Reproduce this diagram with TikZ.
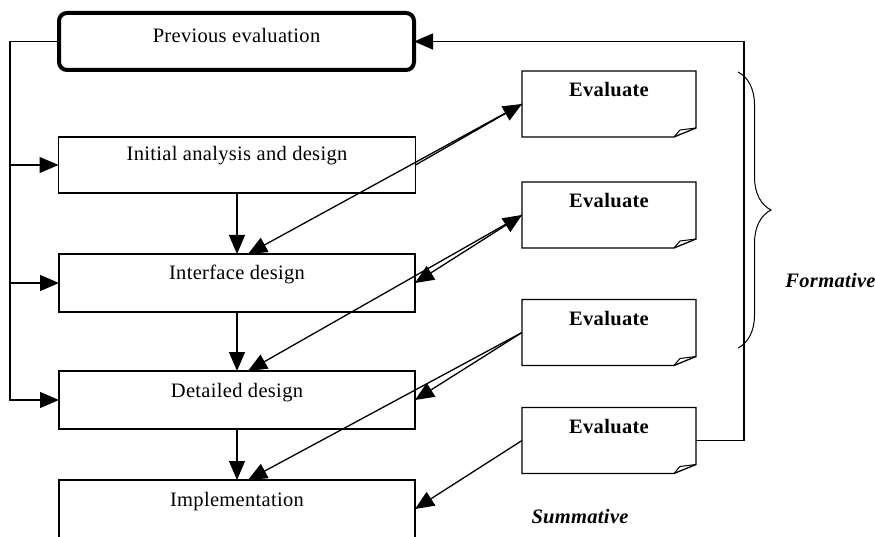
\documentclass[tikz,border=0pt]{standalone}
\usepackage{fontspec}
\setmainfont{Liberation Serif}[LetterSpace=1.5]
\usetikzlibrary{arrows.meta, calc, decorations.pathreplacing}
\newcommand{\diagfont}{\fontsize{20.5}{24}\selectfont}

\begin{document}
\begin{tikzpicture}[x=1pt, y=1pt, line width=1.3pt,
    font=\diagfont,
    >={Triangle[length=19pt, width=16pt]}]
            \tikzstyle{every node}+=[inner sep=0pt, outer sep=0pt]
            \tikzstyle{stagebox}=[draw, rectangle, minimum height=58pt, minimum width=356pt]
            \tikzstyle{evalbox}=[rectangle, minimum height=66pt, minimum width=174pt]
            \useasboundingbox (0, 0) rectangle (875, 536);
            % stages
            \node [stagebox, line width=4pt, rounded corners=8pt, minimum width=355pt, minimum height=57pt] (prev) at (236.5, 494.5) {};
            \node [stagebox, minimum width=357pt, minimum height=56pt] (init) at (237, 371) {};
            \node [stagebox] (iface) at (237, 253) {};
            \node [stagebox] (det) at (237, 136) {};
            \node [stagebox] (impl) at (237, 27) {};
            \node [anchor=base] (prevt) at ([yshift=-30pt]prev.north) {Previous evaluation};
            \node [anchor=base] (initt) at ([yshift=-24pt]init.north) {Initial analysis and design};
            \node [anchor=base] (ifacet) at ([yshift=-25.5pt]iface.north) {Interface design};
            \node [anchor=base] (dett) at ([yshift=-26pt]det.north) {Detailed design};
            \node [anchor=base] (implt) at ([yshift=-26pt]impl.north) {Implementation};
            % evaluation notes
            \foreach \n/\y in {ev1/432, ev2/321, ev3/203.5, ev4/95.5} {
                \node [evalbox] (\n) at (609, \y) {};
                \node [anchor=base, font=\diagfont\bfseries] (\n t) at ([yshift=-26pt]\n.north) {Evaluate};
                \draw [black] (\n.north west) -- (\n.north east) -- ([yshift=9pt]\n.south east)
                    -- ([xshift=-22pt]\n.south east) -- (\n.south west) -- cycle;
                \draw [black, line width=1pt] ([xshift=-22pt]\n.south east) -- ([xshift=-16pt, yshift=7pt]\n.south east)
                    -- ([yshift=9pt]\n.south east);
            }
            % flow down
            \draw [black, ->] (init.south) -- (iface.north);
            \draw [black, ->] (iface.south) -- (det.north);
            \draw [black, ->] (det.south) -- (impl.north);
            % feedback left
            \coordinate (fbl) at (10, 494.5);
            \draw [black, ->] (prev.west) -- (fbl) |- (det.west);
            \draw [black, ->] (fbl |- init.west) -- (init.west);
            \draw [black, ->] (fbl |- iface.west) -- (iface.west);
            % evaluations
            \draw [black, ->] (init.east) -- (ev1.west);
            \draw [black, ->] (ev1.west) -- ([xshift=11pt]iface.north);
            \draw [black, <->] (iface.east) -- (ev2.west);
            \draw [black, ->] (ev2.west) -- ([xshift=11pt]det.north);
            \draw [black, ->] (ev3.west) -- (det.east);
            \draw [black, ->] (ev3.west) -- ([xshift=11pt]impl.north);
            \draw [black, ->] (ev4.west) -- (impl.east);
            % feedback right
            \coordinate (fbr) at (744, 0);
            \draw [black, ->] (ev4.east) -| (fbr |- prev.east) -- (prev.east);
            \draw [black, line width=1pt, decorate, decoration={brace, amplitude=33pt}] (738, 464) -- (738, 188);
            \node [font=\diagfont\bfseries\itshape] (form) at (830.5, 256) {Formative};
            \node [font=\diagfont\bfseries\itshape] (summ) at (580, 19) {Summative};
        \end{tikzpicture}
\end{document}
